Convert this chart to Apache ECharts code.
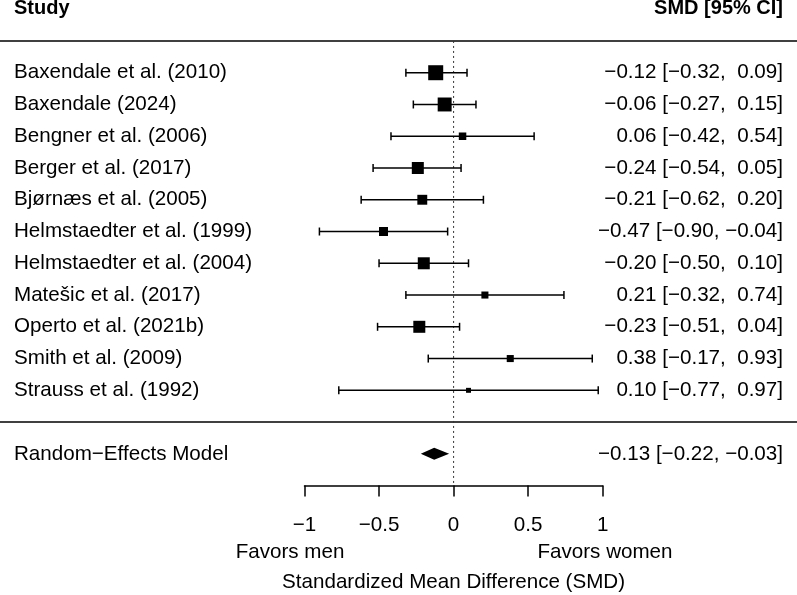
<!DOCTYPE html>
<html>
<head>
<meta charset="utf-8">
<script src="https://cdn.jsdelivr.net/npm/echarts@6/dist/echarts.min.js"></script>
<style>
  html, body { margin: 0; padding: 0; background: #fff; }
  #chart { width: 797px; height: 595px; }
</style>
</head>
<body>
<div id="chart"></div>
<script>
const studies = [
  'Baxendale et al. (2010)',
  'Baxendale (2024)',
  'Bengner et al. (2006)',
  'Berger et al. (2017)',
  'Bjørnæs et al. (2005)',
  'Helmstaedter et al. (1999)',
  'Helmstaedter et al. (2004)',
  'Matešic et al. (2017)',
  'Operto et al. (2021b)',
  'Smith et al. (2009)',
  'Strauss et al. (1992)'
]
const estimates = [-0.12, -0.06, 0.06, -0.24, -0.21, -0.47, -0.20, 0.21, -0.23, 0.38, 0.10]
const lowerCI = [-0.32, -0.27, -0.42, -0.54, -0.62, -0.90, -0.50, -0.32, -0.51, -0.17, -0.77]
const upperCI = [0.09, 0.15, 0.54, 0.05, 0.20, -0.04, 0.10, 0.74, 0.04, 0.93, 0.97]
// relative study weights
const weights = [1.0, 0.93, 0.5, 0.8, 0.66, 0.6, 0.8, 0.47, 0.8, 0.47, 0.33]

const modelLabel = 'Random\u2212Effects Model'
const modelEstimate = [-0.13, -0.22, -0.03]

const FONT = '"Liberation Sans", Arial, sans-serif'
const FS = 20.6
const fmt = (v) => (v < 0 ? '\u2212' : '') + Math.abs(v).toFixed(2)
const ciText = (e, lo, hi) =>
  `${fmt(e)} [${lo >= 0 ? ' ' : ''}${fmt(lo)}, ${hi >= 0 ? ' ' : ''}${fmt(hi)}]`

const n = studies.length
const studyData = studies.map((s, i) => [estimates[i], n - i, lowerCI[i], upperCI[i], weights[i]])

const chart = echarts.init(document.getElementById('chart'), null, { renderer: 'canvas' })

chart.setOption({
  animation: false,
  grid: { left: 304.5, right: 194.3, top: 9.2, bottom: 109.4, outerBoundsMode: 'none', containLabel: false },
  xAxis: {
    type: 'value',
    min: -1,
    max: 1,
    interval: 0.5,
    splitLine: { show: false },
    axisLine: { show: true, onZero: false, lineStyle: { color: '#000', width: 1.5 } },
    axisTick: { show: true, length: 11, lineStyle: { color: '#000', width: 1.5 } },
    axisLabel: {
      margin: 29.5,
      color: '#000',
      fontSize: FS,
      fontFamily: FONT,
      formatter: (v) => String(v).replace('-', '\u2212')
    },
    name: 'Standardized Mean Difference (SMD)',
    nameLocation: 'middle',
    nameGap: 86.5,
    nameTextStyle: { color: '#000', fontSize: FS, fontFamily: FONT }
  },
  yAxis: {
    type: 'value',
    min: -2,
    max: 13,
    show: false
  },
  graphic: [
    { type: 'text', left: 14, top: -2, style: { text: 'Study', fontSize: 20, fontWeight: 'bold', fontFamily: FONT, fill: '#000' } },
    { type: 'text', right: 14, top: -2, style: { text: 'SMD [95% CI]', fontSize: 20, fontWeight: 'bold', fontFamily: FONT, fill: '#000' } },
    { type: 'text', x: 290, y: 552, style: { text: 'Favors men', fontSize: FS, fontFamily: FONT, fill: '#000', align: 'center', verticalAlign: 'middle' } },
    { type: 'text', x: 605, y: 552, style: { text: 'Favors women', fontSize: FS, fontFamily: FONT, fill: '#000', align: 'center', verticalAlign: 'middle' } }
  ],
  series: [
    {
      // separator lines and the dotted line at zero
      type: 'custom',
      clip: false,
      silent: true,
      data: [[0]],
      renderItem(params, api) {
        const yTop = api.coord([0, n + 1])[1]
        const yMid = api.coord([0, 0])[1]
        const yAxis = api.coord([0, -2])[1]
        const x0 = api.coord([0, 0])[0]
        return {
          type: 'group',
          children: [
            { type: 'line', shape: { x1: 0, y1: yTop, x2: 797, y2: yTop }, style: { stroke: '#000', lineWidth: 1.5 } },
            { type: 'line', shape: { x1: 0, y1: yMid, x2: 797, y2: yMid }, style: { stroke: '#000', lineWidth: 1.5 } },
            { type: 'line', shape: { x1: x0, y1: yTop, x2: x0, y2: yAxis }, style: { stroke: '#333', lineWidth: 1, lineDash: [2, 3] } }
          ]
        }
      }
    },
    {
      // studies
      type: 'custom',
      clip: false,
      silent: true,
      data: studyData,
      renderItem(params, api) {
        const i = params.dataIndex
        const row = api.value(1)
        const [xe, y] = api.coord([api.value(0), row])
        const xl = api.coord([api.value(2), row])[0]
        const xh = api.coord([api.value(3), row])[0]
        const s = 15 * api.value(4)
        const cap = 4
        return {
          type: 'group',
          children: [
            { type: 'line', shape: { x1: xl, y1: y, x2: xh, y2: y }, style: { stroke: '#000', lineWidth: 1.5 } },
            { type: 'line', shape: { x1: xl, y1: y - cap, x2: xl, y2: y + cap }, style: { stroke: '#000', lineWidth: 1.5 } },
            { type: 'line', shape: { x1: xh, y1: y - cap, x2: xh, y2: y + cap }, style: { stroke: '#000', lineWidth: 1.5 } },
            { type: 'rect', shape: { x: xe - s / 2, y: y - s / 2, width: s, height: s }, style: { fill: '#000' } },
            { type: 'text', x: 14, y: y, style: { text: studies[i], fontSize: FS, fontFamily: FONT, fill: '#000', align: 'left', verticalAlign: 'middle' } },
            { type: 'text', x: 783, y: y, style: { text: ciText(estimates[i], lowerCI[i], upperCI[i]), fontSize: FS, fontFamily: FONT, fill: '#000', align: 'right', verticalAlign: 'middle' } }
          ]
        }
      }
    },
    {
      // pooled estimate
      type: 'custom',
      clip: false,
      silent: true,
      data: [[modelEstimate[0], -1, modelEstimate[1], modelEstimate[2]]],
      renderItem(params, api) {
        const row = api.value(1)
        const [xe, y] = api.coord([api.value(0), row])
        const xl = api.coord([api.value(2), row])[0]
        const xh = api.coord([api.value(3), row])[0]
        const h = 6
        return {
          type: 'group',
          children: [
            { type: 'polygon', shape: { points: [[xl, y], [xe, y - h], [xh, y], [xe, y + h]] }, style: { fill: '#000' } },
            { type: 'text', x: 14, y: y, style: { text: modelLabel, fontSize: FS, fontFamily: FONT, fill: '#000', align: 'left', verticalAlign: 'middle' } },
            { type: 'text', x: 783, y: y, style: { text: ciText(modelEstimate[0], modelEstimate[1], modelEstimate[2]), fontSize: FS, fontFamily: FONT, fill: '#000', align: 'right', verticalAlign: 'middle' } }
          ]
        }
      }
    }
  ]
})
</script>
</body>
</html>
